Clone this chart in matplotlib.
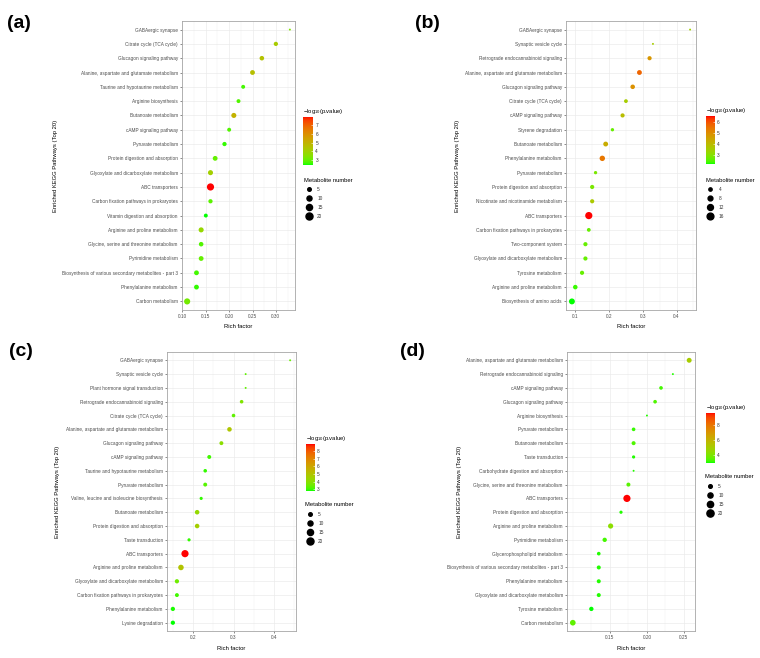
import numpy as np
import matplotlib.pyplot as plt
from matplotlib.colors import ListedColormap
from matplotlib.lines import Line2D
from matplotlib.ticker import AutoMinorLocator

plt.rcParams['font.family'] = ['Liberation Sans', 'DejaVu Sans']
plt.rcParams['mathtext.fontset'] = 'custom'
plt.rcParams['mathtext.rm'] = 'Liberation Sans'
plt.rcParams['mathtext.it'] = 'Liberation Sans'

W, H = 760, 658

# ---- data (rows listed top to bottom) ----
a_paths = ['GABAergic synapse', 'Citrate cycle (TCA cycle)', 'Glucagon signaling pathway',
           'Alanine, aspartate and glutamate metabolism', 'Taurine and hypotaurine metabolism',
           'Arginine biosynthesis', 'Butanoate metabolism', 'cAMP signaling pathway',
           'Pyruvate metabolism', 'Protein digestion and absorption',
           'Glyoxylate and dicarboxylate metabolism', 'ABC transporters',
           'Carbon fixation pathways in prokaryotes', 'Vitamin digestion and absorption',
           'Arginine and proline metabolism', 'Glycine, serine and threonine metabolism',
           'Pyrimidine metabolism', 'Biosynthesis of various secondary metabolites - part 3',
           'Phenylalanine metabolism', 'Carbon metabolism']
a_rich = [0.33, 0.30, 0.27, 0.25, 0.23, 0.22, 0.21, 0.20, 0.19, 0.17,
          0.16, 0.16, 0.16, 0.15, 0.14, 0.14, 0.14, 0.13, 0.13, 0.11]
a_count = [2, 7, 8, 9, 6, 6, 10, 6, 7, 9, 10, 21, 7, 6, 10, 8, 9, 9, 9, 15]
a_logp = [3.4, 4.2, 4.5, 4.6, 2.7, 2.8, 5.0, 2.8, 2.6, 3.0,
          4.1, 7.95, 2.9, 2.45, 3.8, 2.8, 3.0, 2.7, 2.6, 3.2]
a_xticks = [0.10, 0.15, 0.20, 0.25, 0.30]
a_xlabels = ['0.10', '0.15', '0.20', '0.25', '0.30']
a_cbar = [3, 4, 5, 6, 7]
a_sizes = [5, 10, 15, 20]

b_paths = ['GABAergic synapse', 'Synaptic vesicle cycle', 'Retrograde endocannabinoid signaling',
           'Alanine, aspartate and glutamate metabolism', 'Glucagon signaling pathway',
           'Citrate cycle (TCA cycle)', 'cAMP signaling pathway', 'Styrene degradation',
           'Butanoate metabolism', 'Phenylalanine metabolism', 'Pyruvate metabolism',
           'Protein digestion and absorption', 'Nicotinate and nicotinamide metabolism',
           'ABC transporters', 'Carbon fixation pathways in prokaryotes', 'Two-component system',
           'Glyoxylate and dicarboxylate metabolism', 'Tyrosine metabolism',
           'Arginine and proline metabolism', 'Biosynthesis of amino acids']
b_rich = [0.44, 0.33, 0.32, 0.29, 0.27, 0.25, 0.24, 0.21, 0.19, 0.18,
          0.16, 0.15, 0.15, 0.14, 0.14, 0.13, 0.13, 0.12, 0.10, 0.09]
b_count = [2, 2, 6, 8, 7, 5, 6, 4, 8, 10, 4, 6, 6, 18, 5, 6, 6, 6, 7, 12]
b_logp = [3.4, 3.5, 4.8, 5.7, 4.9, 3.5, 3.9, 2.6, 4.3, 5.4,
          2.8, 2.8, 3.6, 6.5, 2.6, 2.6, 2.6, 2.6, 2.3, 2.15]
b_xticks = [0.1, 0.2, 0.3, 0.4]
b_xlabels = ['0.1', '0.2', '0.3', '0.4']
b_cbar = [3, 4, 5, 6]
b_sizes = [4, 8, 12, 16]

c_paths = ['GABAergic synapse', 'Synaptic vesicle cycle', 'Plant hormone signal transduction',
           'Retrograde endocannabinoid signaling', 'Citrate cycle (TCA cycle)',
           'Alanine, aspartate and glutamate metabolism', 'Glucagon signaling pathway',
           'cAMP signaling pathway', 'Taurine and hypotaurine metabolism', 'Pyruvate metabolism',
           'Valine, leucine and isoleucine biosynthesis', 'Butanoate metabolism',
           'Protein digestion and absorption', 'Taste transduction', 'ABC transporters',
           'Arginine and proline metabolism', 'Glyoxylate and dicarboxylate metabolism',
           'Carbon fixation pathways in prokaryotes', 'Phenylalanine metabolism',
           'Lysine degradation']
c_rich = [0.44, 0.33, 0.33, 0.32, 0.30, 0.29, 0.27, 0.24, 0.23, 0.23,
          0.22, 0.21, 0.21, 0.19, 0.18, 0.17, 0.16, 0.16, 0.15, 0.15]
c_count = [2, 2, 2, 5, 5, 8, 6, 6, 5, 6, 4, 8, 8, 4, 21, 12, 7, 6, 7, 7]
c_logp = [3.4, 3.3, 3.3, 3.8, 3.3, 4.9, 4.0, 3.0, 2.9, 3.2,
          2.9, 4.2, 4.6, 2.9, 8.9, 5.0, 3.5, 3.0, 2.8, 2.75]
c_xticks = [0.2, 0.3, 0.4]
c_xlabels = ['0.2', '0.3', '0.4']
c_cbar = [3, 4, 5, 6, 7, 8]
c_sizes = [5, 10, 15, 20]

d_paths = ['Alanine, aspartate and glutamate metabolism', 'Retrograde endocannabinoid signaling',
           'cAMP signaling pathway', 'Glucagon signaling pathway', 'Arginine biosynthesis',
           'Pyruvate metabolism', 'Butanoate metabolism', 'Taste transduction',
           'Carbohydrate digestion and absorption', 'Glycine, serine and threonine metabolism',
           'ABC transporters', 'Protein digestion and absorption',
           'Arginine and proline metabolism', 'Pyrimidine metabolism',
           'Glycerophospholipid metabolism',
           'Biosynthesis of various secondary metabolites - part 3',
           'Phenylalanine metabolism', 'Glyoxylate and dicarboxylate metabolism',
           'Tyrosine metabolism', 'Carbon metabolism']
d_rich = [0.257, 0.235, 0.219, 0.211, 0.200, 0.182, 0.182, 0.182, 0.182, 0.175,
          0.173, 0.165, 0.151, 0.143, 0.135, 0.135, 0.135, 0.135, 0.125, 0.10]
d_count = [9, 2, 5, 5, 2, 5, 6, 4, 2, 6, 20, 4, 10, 7, 5, 6, 6, 6, 7, 12]
d_logp = [5.0, 3.0, 3.2, 3.3, 3.0, 3.1, 3.3, 3.0, 3.0, 3.4,
          9.6, 3.0, 4.3, 3.2, 3.0, 3.0, 3.0, 3.0, 2.9, 3.5]
d_xticks = [0.15, 0.20, 0.25]
d_xlabels = ['0.15', '0.20', '0.25']
d_cbar = [4, 6, 8]
d_sizes = [5, 10, 15, 20]

# ---- green -> red gradient interpolated in CIELAB (like scale_colour_gradient) ----
M = np.array([[0.4124, 0.3576, 0.1805], [0.2126, 0.7152, 0.0722], [0.0193, 0.1192, 0.9505]])
WHITE = np.array([0.95047, 1.0, 1.08883])
EPS = 6 / 29


def to_lab(rgb):
    c = np.asarray(rgb, float)
    lin = np.where(c <= 0.04045, c / 12.92, ((c + 0.055) / 1.055) ** 2.4)
    t = M @ lin / WHITE
    f = np.where(t > EPS ** 3, np.cbrt(t), t / (3 * EPS ** 2) + 4 / 29)
    return np.array([116 * f[1] - 16, 500 * (f[0] - f[1]), 200 * (f[1] - f[2])])


def from_lab(lab):
    fy = (lab[0] + 16) / 116
    f = np.array([fy + lab[1] / 500, fy, fy - lab[2] / 200])
    t = np.where(f > EPS, f ** 3, 3 * EPS ** 2 * (f - 4 / 29)) * WHITE[:, None]
    lin = np.clip(np.linalg.inv(M) @ t, 0, None)
    c = np.where(lin <= 0.0031308, 12.92 * lin, 1.055 * lin ** (1 / 2.4) - 0.055)
    return np.clip(c, 0, 1)


s = np.linspace(0, 1, 256)
lab = to_lab([0, 1, 0])[:, None] * (1 - s) + to_lab([1, 0, 0])[:, None] * s
cmap = ListedColormap(from_lab(lab).T)


def dot_area(n, lo, hi):
    # area-proportional size scale plus a small stroke, diameter in px ~2 .. ~7
    d_px = 0.9 + 1.05 * np.sqrt(1 + 35 * (np.asarray(n, float) - lo) / (hi - lo))
    return (d_px * 0.72) ** 2


def frac(x0, y0, x1, y1):
    return [x0 / W, 1 - y1 / H, (x1 - x0) / W, (y1 - y0) / H]


fig = plt.figure(figsize=(W / 100, H / 100), dpi=100)

panels = [
    ('(a)', a_paths, a_rich, a_count, a_logp, a_xticks, a_xlabels, a_cbar, a_sizes,
     dict(ax=(182, 21, 295, 310), ylab_x=55, xlab_y=326.7, tag=(19, 24),
          cb=(303, 116.7, 313.3, 165), leg=(304, 177.5))),
    ('(b)', b_paths, b_rich, b_count, b_logp, b_xticks, b_xlabels, b_cbar, b_sizes,
     dict(ax=(566, 21, 696, 310), ylab_x=457, xlab_y=326.7, tag=(427, 24),
          cb=(705.7, 116.3, 715, 164), leg=(705.7, 177.5))),
    ('(c)', c_paths, c_rich, c_count, c_logp, c_xticks, c_xlabels, c_cbar, c_sizes,
     dict(ax=(167, 352, 296, 631), ylab_x=58, xlab_y=649, tag=(21, 351),
          cb=(305.7, 444.3, 315, 491), leg=(305, 502.5))),
    ('(d)', d_paths, d_rich, d_count, d_logp, d_xticks, d_xlabels, d_cbar, d_sizes,
     dict(ax=(567, 352, 695, 631), ylab_x=459, xlab_y=649, tag=(412, 351),
          cb=(706, 413, 715, 463), leg=(705, 474.5))),
]

for tag, paths, rich, count, logp, xt, xl, cbt, sizes, L in panels:
    x0, y0, x1, y1 = L['ax']
    ax = fig.add_axes(frac(*L['ax']))
    lo, hi = min(count), max(count)
    sc = ax.scatter(rich[::-1], paths[::-1], s=dot_area(count[::-1], lo, hi), c=logp[::-1],
                    cmap=cmap, vmin=min(logp), vmax=max(logp), edgecolors='none', zorder=3)
    pad = 0.05 * (max(rich) - min(rich))
    ax.set_xlim(min(rich) - pad, max(rich) + pad)
    ax.set_ylim(-0.6, len(paths) - 0.4)
    ax.set_xticks(xt)
    ax.set_xticklabels(xl)
    ax.xaxis.set_minor_locator(AutoMinorLocator(2))
    ax.set_axisbelow(True)
    ax.grid(True, which='major', color='#EBEBEB', lw=0.5)
    ax.grid(True, which='minor', axis='x', color='#F2F2F2', lw=0.35)
    ax.tick_params(which='major', labelsize=3.4, labelcolor='#4D4D4D', length=1.5,
                   width=0.4, color='#333333', pad=1.5)
    ax.tick_params(which='minor', length=0)
    for sp in ax.spines.values():
        sp.set_color('#A6A6A6')
        sp.set_linewidth(0.6)

    ax.set_xlabel('Rich factor', fontsize=4.2)
    ax.xaxis.label.set_va('center')
    ax.xaxis.set_label_coords(0.5, -(L['xlab_y'] - y1) / (y1 - y0))
    ax.set_ylabel('Enriched KEGG Pathways (Top 20)', fontsize=4.2)
    ax.yaxis.label.set_va('center')
    ax.yaxis.set_label_coords((L['ylab_x'] - x0) / (x1 - x0), 0.5)

    fig.text(L['tag'][0] / W, 1 - L['tag'][1] / H, tag, fontsize=14, fontweight='bold',
             ha='center', va='center')

    cax = fig.add_axes(frac(*L['cb']))
    cb = fig.colorbar(sc, cax=cax)
    cb.outline.set_visible(False)
    cb.set_ticks(cbt)
    cax.tick_params(labelsize=3.4, labelcolor='#333333', length=1.5, width=0.4,
                    color='white', direction='in', pad=1.5)
    cax.set_title('\u2212log$_{10}$(p.value)', fontsize=4.2, loc='left', pad=3)

    handles = [Line2D([], [], ls='', marker='o', color='black',
                      markersize=np.sqrt(dot_area(v, lo, hi))) for v in sizes]
    fig.legend(handles, [str(v) for v in sizes], title='Metabolite number',
               loc='upper left', bbox_to_anchor=(L['leg'][0] / W, 1 - L['leg'][1] / H),
               frameon=False, fontsize=3.4, title_fontsize=4.2, alignment='left',
               borderpad=0, borderaxespad=0, labelspacing=0.85, handletextpad=0.8,
               handlelength=2, labelcolor='#333333')

fig.savefig('out.png', dpi=100)
